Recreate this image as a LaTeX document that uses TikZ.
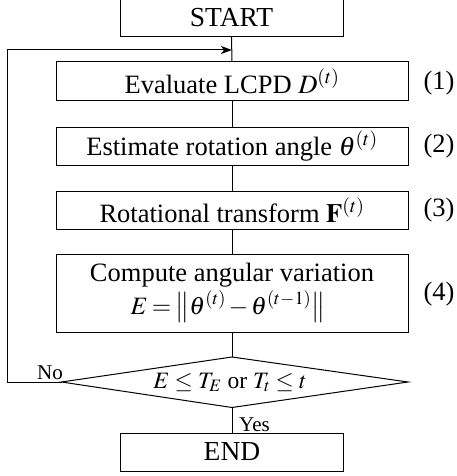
\documentclass[tikz,border=0pt]{standalone}
\usepackage{mathptmx}
\usepackage[no-math]{fontspec}
\setmainfont{Liberation Serif}
\usetikzlibrary{arrows.meta}
\begin{document}
\begin{tikzpicture}[x=1pt,y=-1pt,
  box/.style={draw,line width=1pt,minimum width=352pt,inner sep=0pt,
    font=\fontsize{26.5}{30}\selectfont},
  termbox/.style={draw,line width=1pt,minimum width=223pt,minimum height=38pt,inner sep=0pt,
    font=\fontsize{27.5}{30}\selectfont},
  lbl/.style={inner sep=0pt,font=\fontsize{26.5}{30}\selectfont},
  condtext/.style={inner sep=0pt,font=\fontsize{23.5}{26}\selectfont},
  small/.style={inner sep=0pt,font=\fontsize{21}{24}\selectfont},
  conn/.style={line width=1pt}]
\useasboundingbox (0,0) rectangle (457,476);
\node[termbox,minimum height=38pt] (start) at (231.5,17.7) {START};
\node[box,minimum height=39pt] (b1) at (232,81.5) {Evaluate LCPD $D^{(t)}$};
\node[box,minimum height=38pt] (b2) at (232,146) {Estimate rotation angle $\theta^{(t)}$};
\node[box,minimum height=38pt] (b3) at (232,210) {Rotational transform $\mathbf{F}^{(t)}$};
\node[box,minimum height=78pt] (b4) at (232,293) {};
\node[lbl,anchor=base] (b4a) at (232,281) {Compute angular variation};
\node[lbl,anchor=base,font=\fontsize{25}{28}\selectfont] (b4b) at (228,314)
  {$\medmuskip=2mu\thickmuskip=3mu E=\bigl\|\theta^{(t)}-\theta^{(t-1)}\bigr\|$};
\coordinate (dt) at (232,357);
\coordinate (dl) at (61.5,382);
\coordinate (db) at (232,407.5);
\coordinate (dr) at (408,382);
\draw[conn] (dt) -- (dl) -- (db) -- (dr) -- cycle;
\node[condtext,anchor=base] (cond) at (230,388) {$\thickmuskip=4mu E\le T_E$ or $\thickmuskip=4mu T_t\le t$};
\node[termbox] (end) at (232,452) {END};
\node[lbl] (l1) at (439,83) {(1)};
\node[lbl] (l2) at (439,146) {(2)};
\node[lbl] (l3) at (439,210) {(3)};
\node[lbl] (l4) at (439,294) {(4)};
\coordinate (j) at (232,50);
\coordinate (c1) at (7.5,382);
\coordinate (c2) at (7.5,50);
\draw[conn] (start.south) -- (b1.north);
\draw[conn] (b1.south) -- (b2.north);
\draw[conn] (b2.south) -- (b3.north);
\draw[conn] (b3.south) -- (b4.north);
\draw[conn] (b4.south) -- (dt);
\draw[conn] (db) -- (end.north);
\draw[conn,-{Stealth[length=11pt,width=8pt,inset=3pt]}] (dl) -- (c1) -- (c2) -- (j);
\node[small,anchor=base west] (no) at (37,379) {No};
\node[small,anchor=base west] (yes) at (239,431) {Yes};
\end{tikzpicture}
\end{document}
